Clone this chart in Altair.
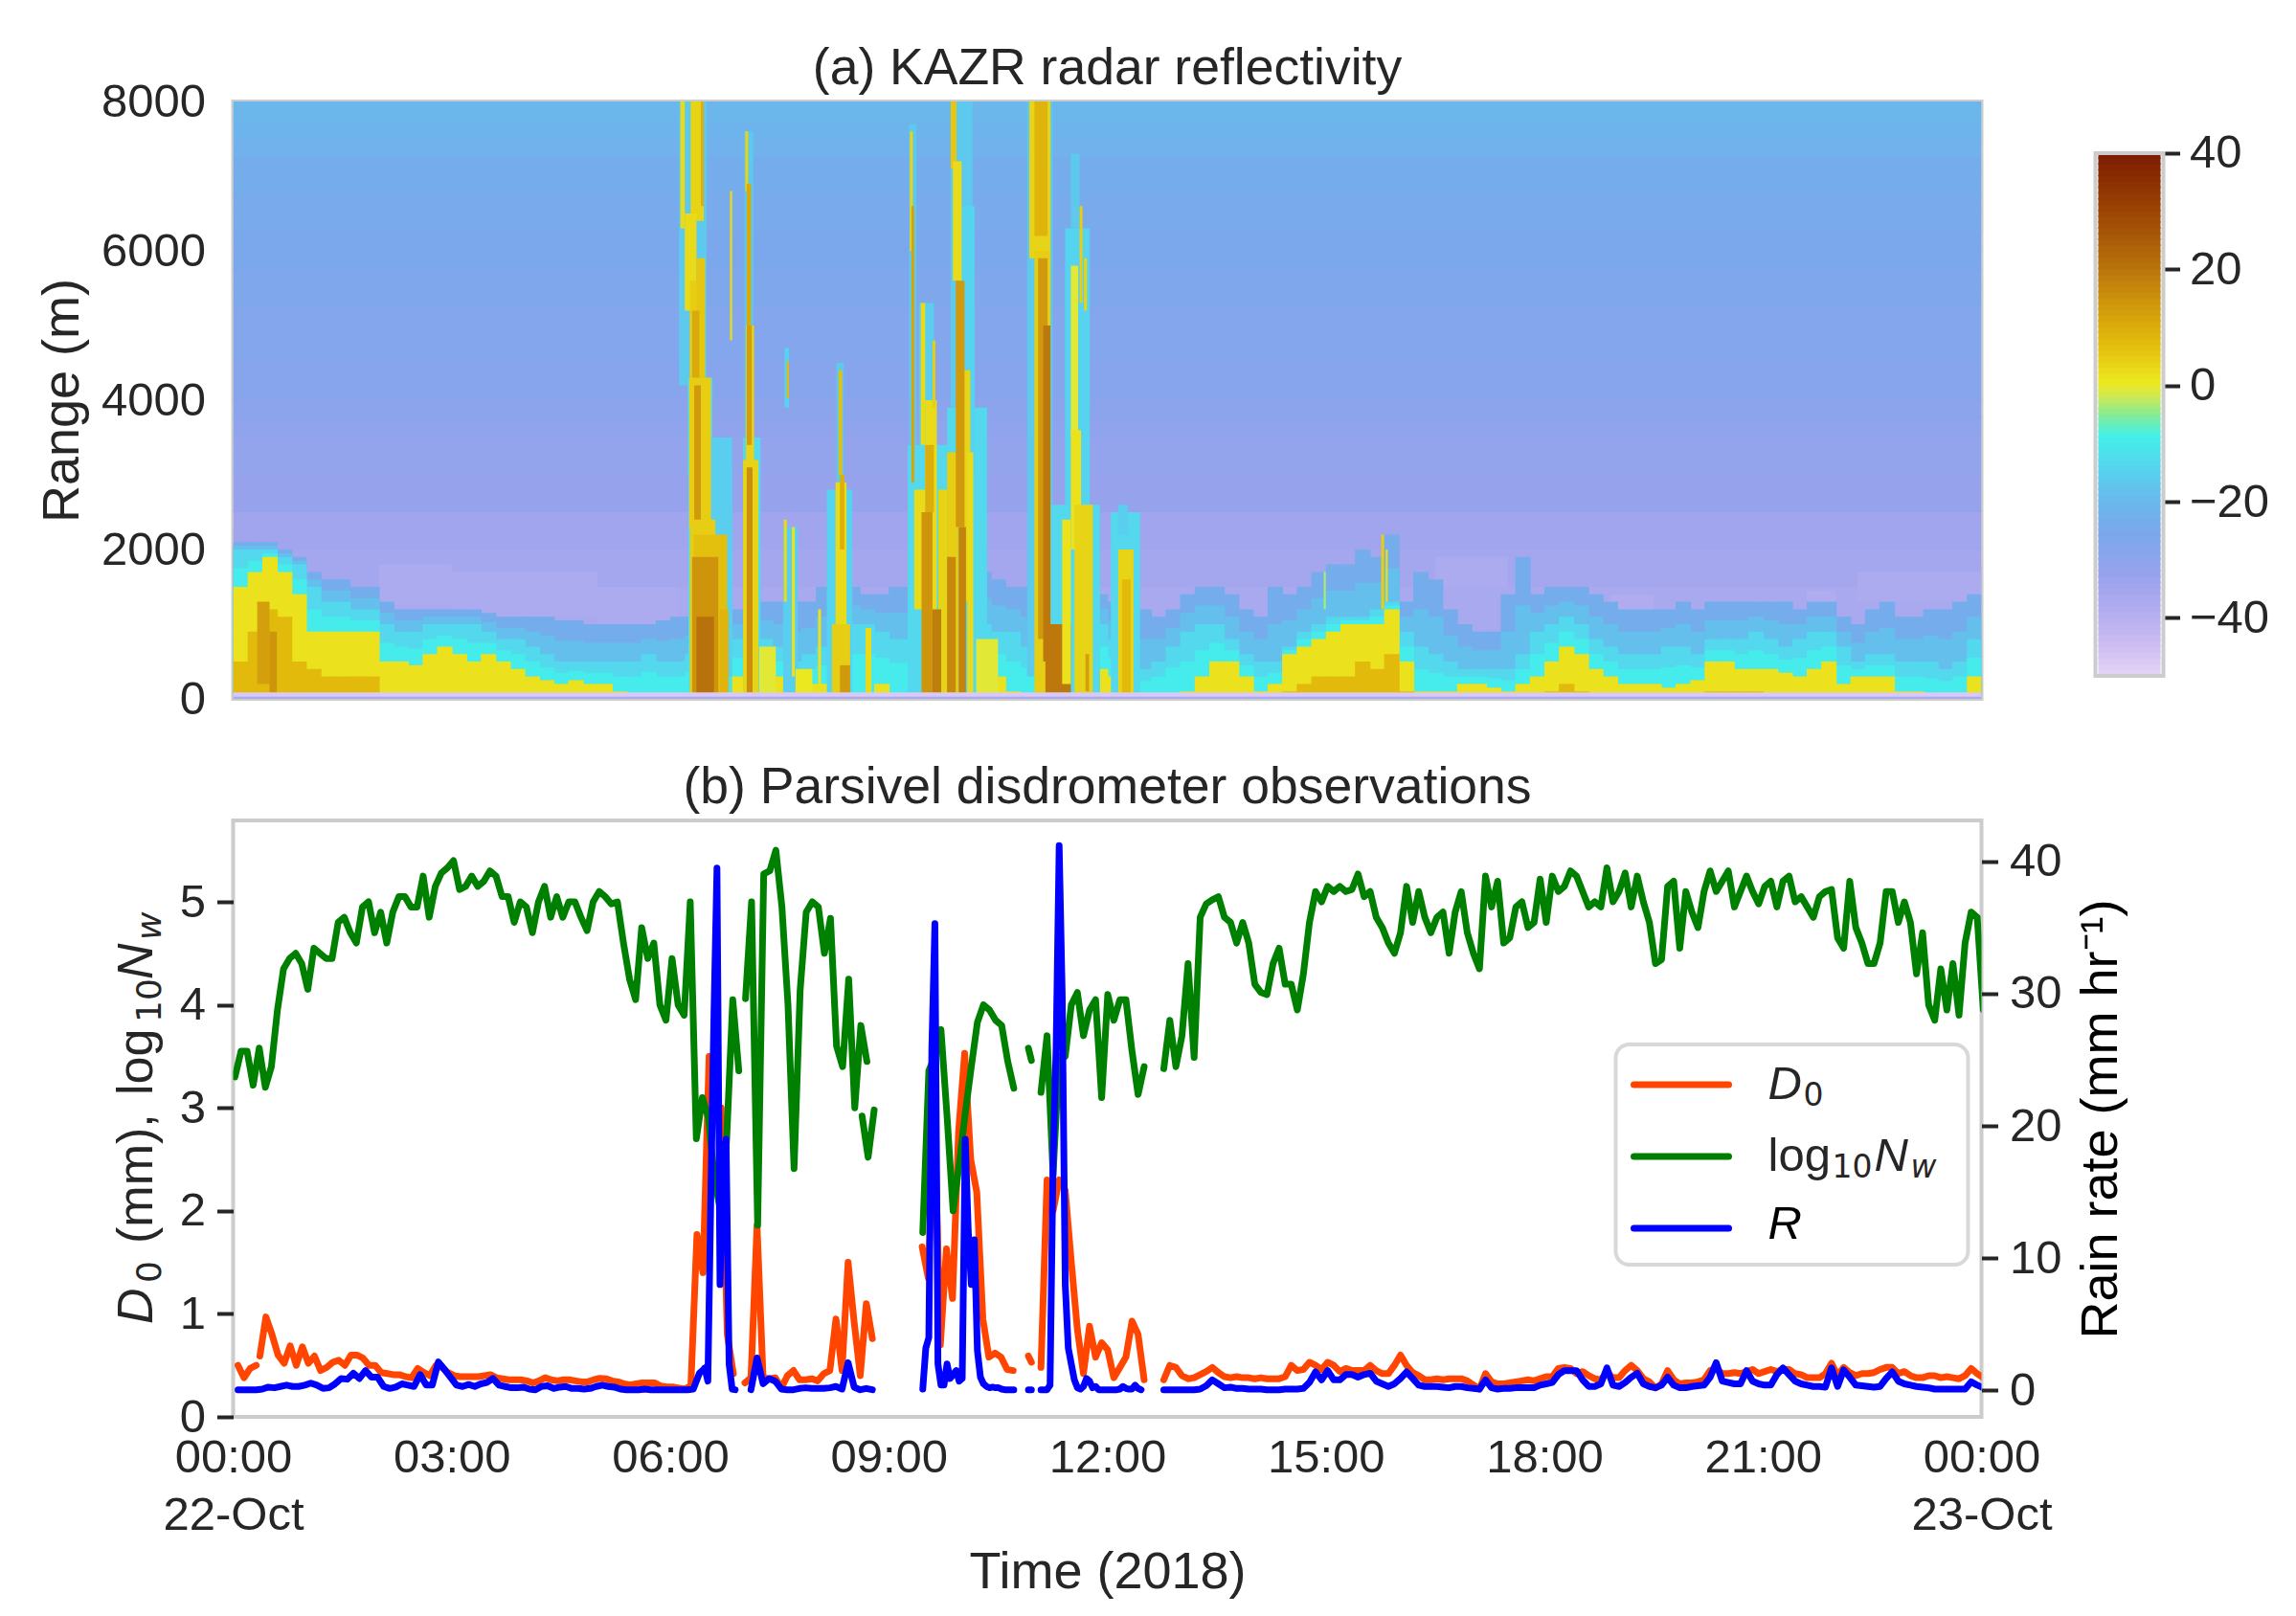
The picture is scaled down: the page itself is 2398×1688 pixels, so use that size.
import altair as alt

FONT = "Liberation Sans"
MATH = "DejaVu Sans"
INK = "#262626"
GREY = "#cccccc"
LW = 7

# ---------- panel (a): reflectivity ----------
cmap_z = [-50, -45, -40, -33, -25.7, -20, -14.7, -9.2, -5.6, -2, 0, 6.6, 12, 20, 30, 40]
cmap_c = ["#e2d2f6", "#cbbcf2", "#b5aef0", "#97a2ec", "#7aa8ec", "#68baec", "#55d5ee", "#42f0ea",
          "#85ec95", "#d5e84a", "#ece820", "#e3bc0c", "#d49f0c", "#b8720c", "#9a4203", "#7a1a00"]

# clear-air background, one value per 250 m, from the ground up
bg_z = [-37, -37, -37, -37, -37, -37, -36, -36, -35, -35, -33, -33, -32, -32, -31, -30,
        -29, -29, -28, -28, -28, -27, -27, -26, -26, -25, -25, -24, -24, -23, -22, -21]

# low-level echo tops (m), one value per 0.2 h
top_blue = [2100,2100,2100,2000,1900,1700,1600,1600,1500,1500, 1300,1200,1200,1200,1200,1200,1200,1150,1100,1100,
            1100,1100,1050,1050,1000,1000,1000,1000,1000,1050, 1100,1100,1200,1200,1200,1200,1300,1300,1300,1300,
            1500,1500,1500,1400,1400,1500,1500,1600,1600,1700, 1700,1700,1600,1500,1500,1500,1500,1400,1400,1400,
            1300,1200,1200,1100,1200,1400,1500,1500,1400,1200, 1100,1500,1400,1500,1700,1800,1800,2000,1900,2200,
            1300,1700,1600,1200,1000,900,900,1400,1900,1400, 1500,1500,1500,1400,1300,1200,1200,1200,1200,1300,
            1200,1300,1300,1300,1300,1300,1300,1200,1300,1300, 1100,1000,1200,1300,1100,1100,1200,1200,1300,1400]
top_cyan = [2000,2000,2000,1900,1800,1500,1300,1300,1200,1200, 1000,900,900,1000,1000,1000,1000,900,800,800,
            700,600,500,500,500,500,500,500,600,500, 500,600,800,800,800,800,800,700,500,600,
            700,900,1000,1000,900,800,800,1000,1000,1000, 1000,1000,900,900,700,700,900,1000,1000,1000,
            800,800,400,500,700,900,1000,1000,800,600, 500,500,700,900,1000,1100,1100,1100,1200,1300,
            900,700,600,500,400,400,400,400,600,900, 1000,1100,1000,800,700,600,600,600,700,700,
            600,800,800,800,900,800,700,800,900,900, 700,500,600,600,500,500,500,400,500,800]
top_yellow = [1500,1700,1900,1700,1400,900,900,900,900,900, 500,500,450,600,700,600,500,600,500,400,
              300,250,200,250,200,200,100,0,0,0, 0,0,300,300,300,300,200,300,100,200,
              200,200,0,0,200,0,0,0,200,300, 400,400,300,100,0,0,200,400,400,400,
              300,300,0,0,0,100,300,500,500,300, 100,200,600,700,800,900,1000,1000,1000,1200,
              500,100,100,100,200,200,150,100,200,300, 500,700,600,400,300,200,200,200,150,200,
              250,500,500,400,400,400,350,300,400,500, 200,300,300,300,100,100,50,0,0,300]
top_gold = [500,900,1200,1100,500,400,300,300,300,300, 0,0,0,0,0,0,0,0,0,0,
            0,0,0,0,0,0,0,0,0,0, 0,0,0,0,0,0,0,0,0,0,
            0,0,0,0,0,0,0,0,0,0, 0,0,0,0,0,0,0,0,0,0,
            0,0,0,0,0,0,0,0,0,0, 0,0,100,200,300,300,300,500,400,600,
            100,0,0,0,0,0,0,0,0,0, 100,200,100,0,0,0,0,0,0,0,
            0,100,100,100,100,50,0,0,0,0, 0,0,0,0,0,0,0,0,0,0]
top_z = [-24, -14, 1, 7]
mid_z = [-19, -10]   # contours read as lying about midway between blue/cyan and cyan/yellow

# faint, very low reflectivity patches: t0 (h), t1 (h), h0 (m), h1 (m), dBZ
patches = [(2.0,3.0,1250,1800,-38),(3.0,5.0,1100,1700,-38),(5.0,6.1,950,1500,-38),(16.5,17.5,1500,1900,-38),
           (18.9,19.5,1150,1400,-39),(20.8,21.3,1150,1300,-38),(21.6,22.0,1000,1450,-39),(22.3,24.0,1300,1700,-38)]

# convective fringes, drawn below the cores
fringes = [(6.12,6.50,4200,8000,-17),(6.24,6.58,3000,4300,-14),(6.25,6.85,80,3100,-12),(6.55,6.85,300,3500,-16),
           (7.0,7.24,80,3500,-14),(7.02,7.14,3500,7600,-17),(7.57,7.63,3900,4700,-15),(7.55,7.75,80,2300,-16),
           (8.15,8.5,80,2800,-15),(8.28,8.38,2800,4500,-17),(9.26,9.8,80,3400,-14),(9.28,9.38,3400,7700,-17),
           (9.42,9.62,3400,5300,-16),(9.8,10.35,80,3900,-14),(9.85,10.15,3900,8000,-17),(9.98,10.18,3000,6600,-15),
           (10.9,11.25,300,8000,-17),(11.2,11.9,80,2600,-14),(11.42,11.76,2600,6300,-15),(11.5,11.62,6300,7300,-17),
           (12.05,12.45,80,2500,-14),(12.15,12.28,2200,2600,-16)]

core_early = [(0.33,0.5,200,1300,12),(0.5,0.6,80,900,14)]
core_a = [(6.14,6.2,6300,8000,2),(6.28,6.46,6400,8000,3),(6.42,6.46,6600,8000,9),(6.2,6.36,5200,6500,2),(6.27,6.42,4200,5600,4),
          (6.36,6.48,3200,5900,5),(6.3,6.4,3200,5200,10),(6.26,6.56,2300,4300,4),(6.33,6.42,2200,4200,13),(6.27,6.62,80,2400,4),
          (6.32,6.78,80,2200,6),(6.30,6.66,80,1900,14),(6.36,6.6,80,1100,20),(6.68,6.8,80,1200,8)]
core_b = [(6.82,6.85,4800,6800,2),(7.03,7.07,6800,7600,3),(7.05,7.11,4900,6900,10),(7.04,7.15,3100,5000,3),(7.05,7.12,3400,5000,12),
          (7.0,7.21,80,3200,3),(7.05,7.13,80,3100,15),(7.22,7.45,80,700,-1),(7.6,7.63,4030,4520,7),(7.56,7.6,1300,2400,2),
          (7.67,7.71,300,2300,1),(7.72,7.95,80,400,0)]
core_c = [(8.31,8.36,3000,4400,6),(8.27,8.42,1000,2900,2),(8.33,8.39,2000,3000,9),(8.22,8.47,80,1000,4),(8.33,8.47,80,450,13),
          (8.68,8.76,80,950,2),(8.03,8.07,100,1200,1)]
core_d = [(9.29,9.33,6000,7600,3),(9.31,9.35,2900,6600,11),(9.44,9.5,3400,5300,2),(9.35,9.5,1200,2800,2),(9.5,9.66,800,4000,2),
          (9.6,9.64,3900,4800,4),(9.68,9.8,80,2800,3),(9.45,9.6,80,2500,14),(9.6,9.72,80,1200,18),(9.5,9.62,2500,3400,9)]
core_e = [(9.85,9.93,7100,8000,5),(9.88,10.0,5600,7200,2),(9.8,9.95,80,3300,4),(9.95,10.0,80,5000,5),(10.0,10.12,1300,4400,3),
          (10.08,10.16,80,3300,2),(9.8,9.92,80,1900,16),(9.96,10.06,80,2300,17),(9.92,10.04,2300,5600,13),(10.2,10.5,80,800,-1)]
core_f = [(10.93,11.22,5900,8000,3),(11.0,11.18,6200,8000,8),(11.0,11.22,80,6000,4),(11.05,11.18,800,5900,13),(11.15,11.5,80,1000,19),
          (11.12,11.22,500,5000,19),(11.5,11.6,3500,5800,-1),(11.62,11.66,5300,6600,4),(11.68,11.72,5200,5900,3),(11.5,11.64,2000,3600,1),
          (11.38,11.5,200,2400,1),(11.55,11.8,80,2600,3),(11.7,11.75,100,600,12),(12.15,12.36,80,2000,3),(12.2,12.32,80,1600,7)]
core_late = [(15.76,15.8,1200,2200,4),(15.82,15.85,1300,2000,2),(14.97,15.0,1200,1700,-4)]

# ---------- panel (b): segments are (start, step, values), both in 5-minute units ----------
nw_segs = [
 (0.3, 1, [3.30,3.55,3.55,3.22,3.58,3.2,3.4,3.95,4.35,4.45,4.5,4.4,4.15,4.55,4.5,4.45,4.45,4.8,4.85,4.7,4.6,4.95,5.0,4.7,4.9,4.6,4.9,
           5.05,5.05,4.95,4.95,5.25,4.85,5.15,5.28,5.33,5.4,5.12,5.15,5.25,5.15,5.2,5.3,5.25,5.05,5.05,4.8,5.0,4.95,4.7,5.0,5.15,4.85,
           5.05,4.85,5.0,5.0,4.85,4.72,5.0,5.1,5.05,4.98,5.0,4.6,4.25,4.05,4.75,4.45,4.6,4.0,3.85,4.45,4.0,3.9,5.0,2.7,3.1,2.9,2.3,2.0,2.7,4.05,3.36]),
 (84.4, 1, [4.06,5.0,1.86,5.27,5.3,5.5,4.95,4.0,2.41,4.14,4.9,5.0,4.95,4.5,4.84,3.6,3.4,4.25,3.0,3.8,3.45]),
 (103.6, 1, [2.92,2.52,2.98]),
 (113.6, 1, [1.79,3.36,3.5,3.76,2.92,2.0,2.45,2.95,3.4,3.83,4.0,3.95,3.85,3.8,3.45,3.19]),
 (131.0, 0.5, [3.58,3.46]),
 (133.07, 1, [3.15,3.7,2.35,3.5,3.5,4.0,4.12,3.7,3.95,4.05,3.1,4.1,3.85,4.05,4.05,3.55,3.13,3.4]),
 (153.3, 1, [3.38,3.85,3.4,3.7,4.4,3.49,4.85,4.98,5.02,5.05,4.85,4.8,4.6,4.8,4.6,4.2,4.12,4.1,4.4,4.55,4.2,4.2,3.95,4.3,4.8,5.1,5.0,5.15,5.1,
             5.15,5.1,5.12,5.27,5.05,5.1,4.85,4.75,4.6,4.5,4.7,5.15,4.8,5.1,4.85,4.7,4.85,4.9,4.5,4.9,5.1,4.7,4.5,4.35,5.25,4.95,5.2,4.6,4.65,
             4.95,5.0,4.75,4.8,5.22,4.8,5.25,5.1,5.15,5.3,5.25,5.1,4.95,5.0,4.95,5.33,5.0,5.1,5.28,4.95,5.25,5.0,4.8,4.4,4.44,5.15,5.2,4.55,5.1,
             4.9,4.75,5.1,5.3,5.1,5.2,5.3,4.95,5.1,5.25,5.1,4.98,5.15,5.2,4.95,5.2,5.25,5.0,5.05,4.95,4.85,5.05,5.1,5.12,4.65,4.55,5.2,4.75,4.6,
             4.4,4.4,4.6,5.1,5.1,4.8,5.0,4.8,4.3,4.7,4.0,3.85,4.35,3.95,4.4,3.9,4.6,4.9,4.85,3.95]),
]
d0_segs = [
 (0.8, 1, [0.5,0.38,0.47,0.5]),
 (4.4, 1, [.59,.97,.8,.6,.52,.69,.5,.68,.52,.59,.45,.48,.53,.55,.5,.6,.6,.57,.5,.5,.43,.42,.41,.41,.39,.38,.47,.43,.4,.5,.48,.43,.4,.39,.39,.39,.39,.4,
           .41,.38,.37,.36,.36,.36,.35,.33,.35,.38,.36,.35,.36,.36,.35,.34,.34,.36,.375,.37,.35,.34,.32,.31,.32,.33,.33,.33,.3,.29,.29,.28,.27,.3,1.77,1.4,3.5,3.0,3.0,.8,.42]),
 (84.3, 1, [.33,.38,1.86,.38,.37,.38,.28,.4,.45,.36,.36,.37,.35,.42,.45,.95,.45,1.5,.92,.4,1.1,.76]),
 (113.5, 1, [1.65,1.35,3.0,.7,1.63,1.15,2.77,3.53,2.5,2.18,.95,.58,.62,.58,.46,.45]),
 (131.0, 0.5, [.59,.53]),
 (133.07, 1, [.48,2.3,2.0,2.3,2.2,1.5,.85,.42,.88,.58,.72,.65,.38,.48,.58,.93,.8,.36]),
 (153.3, 1, [.36,.5,.48,.4,.37,.38,.41,.44,.48,.43,.39,.38,.39,.38,.38,.37,.38,.37,.37,.37,.39,.5,.45,.46,.53,.5,.46,.53,.5,
             .44,.47,.45,.45,.45,.5,.45,.42,.42,.5,.6,.5,.43,.4,.36,.36,.37,.36,.37,.37,.37,.35,.31,.27,.42,.34,.32,.32,.33,
             .34,.35,.36,.35,.37,.39,.39,.47,.48,.47,.42,.44,.4,.37,.36,.43,.38,.38,.45,.5,.45,.37,.34,.28,.32,.45,
             .36,.32,.33,.33,.34,.36,.45,.47,.42,.42,.43,.42,.44,.46,.42,.44,.46,.44,.46,.46,.42,.41,.38,.38,.38,.42,
             .52,.4,.48,.43,.4,.42,.42,.43,.46,.48,.48,.42,.44,.4,.38,.38,.4,.4,.38,.39,.38,.37,.4,.47,.42,.38]),
]
r_segs = [
 (0.8, 1, [.05,.05,.05,.05,.1,.25,.2,.3,.4,.3,.3,.4,.55,.4,.15,.2,.5,.9,.85,1.3,.9,1.5,1.0,1.0,.3,.15,.25,.5,.4,.3,1.2,.4,.4,2.15,1.6,1.0,.4,.3,.45,.3,.5,.6,.9,
           .4,.3,.2,.2,.25,.1,.05,.3,.35,.15,.25,.3,.15,.15,.1,.15,.3,.4,.3,.25,.1,.05,.05,.05,.1,.05,.05,.05,.05,.05,.05,.05,.1,1.3,1.7]),
 (77.7, 0.5, [1.7,.7,15,28.4,39.5,8,17,19,2,.1,.05]),
 (85.3, 1, [.05,2.45,.5,.9,.7,.1,.05,.05,.15,.2,.15,.15,.15,.2,.3,.1,2.1,.25,.05,.15,.05]),
 (113.6, 0.5, [.1,3.2,4,26,35.3,2,.4,.4,2.0,.9,1.2,1.5,.7,.9,19,12,8,11.4,3,1.0,.5,.3,.2,.25,.2,.2,.1,.05,.05,.05,.05]),
 (131.0, 0.5, [.05,.05]),
 (133.07, 0.5, [.05,.05,.05,.4,17.5,26,41.2,30,8,3.2,2,.8,.2,.1,.3,.9,.7,.2,.3,.05,.05,.05,.05,.05,.05,.05,.1,.3,.15,.1,.1,.4,.15,.05]),
 (153.3, 1, [.05,.05,.05,.05,.05,.05,.1,.35,.8,.5,.2,.25,.15,.15,.1,.1,.1,.05,.05,.05,.1,.1,.1,.15,.6,1.4,.8,1.5,.8,
             .8,1.2,1.2,1.0,1.2,1.3,.7,.5,.3,.5,.9,1.4,.9,.4,.3,.3,.3,.25,.2,.3,.3,.2,.15,.1,.8,.2,.1,.15,.15,
             .2,.2,.2,.2,.4,.5,.6,1.2,1.5,1.5,1.5,.8,.3,.3,.5,1.7,.4,.3,.6,1.0,1.3,.5,.3,.2,.4,1.0,
             .4,.2,.2,.3,.35,.4,1.0,2.1,.7,.6,.5,.5,1.5,.7,.5,.4,.4,1.2,1.7,1.2,.7,.5,.4,.3,.3,.25,
             1.7,.3,1.55,1.0,.4,.35,.3,.25,.3,.9,1.4,.7,.5,.4,.3,.25,.2,.1,.1,.1,.1,.1,.1,.65,.4,.2]),
]

left_ticks = [0, 1, 2, 3, 4, 5]
rain_ticks = [0, 10, 20, 30, 40]
range_ticks = [0, 2000, 4000, 6000, 8000]
bar_ticks = [-40, -20, 0, 20, 40]
hour_ticks = [0, 3, 6, 9, 12, 15, 18, 21, 24]
hour_labels = ["00:00", "03:00", "06:00", "09:00", "12:00", "15:00", "18:00", "21:00", "00:00"]
date_labels = ["22-Oct", "23-Oct"]

W, H_A, H_B, BAR_W = 1826, 624, 623, 71

# ---------- build rect table ----------
rects = []
for i, z in enumerate(bg_z):
    rects.append(dict(t0=0, t1=24, h0=i*250, h1=(i+1)*250+25 if i < 31 else 8000, z=z))
for p in patches:
    rects.append(dict(zip(["t0", "t1", "h0", "h1", "z"], p)))
levels = [(top_blue, top_z[0]),
          ([(a+b)/2 for a, b in zip(top_blue, top_cyan)], mid_z[0]),
          (top_cyan, top_z[1]),
          ([(a+b)/2 if b > 0 else a*0.6 for a, b in zip(top_cyan, top_yellow)], mid_z[1]),
          (top_yellow, top_z[2]),
          (top_gold, top_z[3])]
for tops, z in levels:
    for i, h in enumerate(tops):
        if h > 0:
            rects.append(dict(t0=i*0.2, t1=min(24, (i+1)*0.2+0.012), h0=60, h1=h, z=z))
for group in [fringes, core_early, core_a, core_b, core_c, core_d, core_e, core_f, core_late]:
    for p in group:
        rects.append(dict(zip(["t0", "t1", "h0", "h1", "z"], p)))
rects.append(dict(t0=0, t1=24, h0=30, h1=85, z=-48))

zscale = alt.Scale(domain=cmap_z, range=cmap_c, interpolate="rgb")
xscale = alt.Scale(domain=[0, 24], nice=False, zero=False)

top = alt.Chart(alt.Data(values=rects), title=alt.TitleParams("(a) KAZR radar reflectivity", offset=-17)).mark_rect(stroke=None, clip=True).encode(
    x=alt.X("t0:Q", scale=xscale, axis=None),
    x2="t1:Q",
    y=alt.Y("h0:Q", scale=alt.Scale(domain=[0, 8000], nice=False),
            axis=alt.Axis(values=range_ticks, format="d", title="Range (m)", grid=False, domain=False, ticks=True,
                          tickColor="transparent", tickSize=17, labelPadding=12, titlePadding=13)),
    y2="h1:Q",
    color=alt.Color("z:Q", scale=zscale, legend=None),
).properties(width=W, height=H_A)

# ---------- colour bar ----------
bar_vals = [dict(a=z, b=z+1.3 if z < 39 else 40) for z in range(-50, 40)]
bar_y = alt.Y("a:Q", scale=alt.Scale(domain=[-53.95, 48.9], nice=False, zero=False),
              axis=alt.Axis(orient="right", values=bar_ticks, grid=False, domain=False, title=None, tickSize=17,
                            tickWidth=4, tickColor=INK, labelPadding=10,
                            labelExpr="replace(datum.label, '-', '\u2212')"))
bar = alt.Chart(alt.Data(values=bar_vals)).mark_rect(stroke=None).encode(
    y=bar_y, y2="b:Q", color=alt.Color("a:Q", scale=zscale, legend=None),
    x=alt.value(3), x2=alt.value(BAR_W-3))
frame = alt.Chart(alt.Data(values=[dict(a=-50, b=40)])).mark_rect(fillOpacity=0, stroke=GREY, strokeWidth=4).encode(
    y=bar_y, y2="b:Q", x=alt.value(0), x2=alt.value(BAR_W))
cbar = alt.layer(bar, frame).properties(width=BAR_W, height=H_A, view=alt.ViewConfig(stroke=None))

# ---------- panel (b) ----------
def rows(segs):
    out = []
    for n, (start, step, vals) in enumerate(segs):
        for k, v in enumerate(vals):
            out.append(dict(t=(start + k*step)*5/60, v=v, s=n))
    return out

x_axis = alt.Axis(values=hour_ticks, title="Time (2018)", grid=False, domain=False, ticks=False, labelPadding=18, titlePadding=8,
                  labelFlush=False, labelOverlap=False, labelLineHeight=60,
                  labelExpr="datum.value == 0 ? ['%s', '%s'] : datum.value == 24 ? ['%s', '%s'] : ['%s','%s','%s','%s','%s','%s','%s','%s','%s'][datum.value / 3]" % (
                      hour_labels[0], date_labels[0], hour_labels[8], date_labels[1], *hour_labels))
left_scale = alt.Scale(domain=[0, 5.79], nice=False)
right_scale = alt.Scale(domain=[-2, 43.1], nice=False, zero=False)

def line(segs, color, scale, axis):
    return alt.Chart(alt.Data(values=rows(segs))).mark_line(color=color, strokeWidth=LW, strokeCap="round", strokeJoin="round", clip=True).encode(
        x=alt.X("t:Q", scale=xscale, axis=x_axis),
        y=alt.Y("v:Q", scale=scale, axis=axis),
        detail="s:N")

left_axis = alt.Axis(values=left_ticks, title=None, grid=False, domain=False, tickSize=17, tickWidth=4, tickColor=INK, labelPadding=12)
right_axis = alt.Axis(orient="right", values=rain_ticks, title="Rain rate (mm hr\u207b\u00b9)", titleColor="black", titleAngle=270, grid=False, domain=False,
                      tickSize=17, tickWidth=4, tickColor=INK, labelPadding=12, titlePadding=68)

one = alt.Data(values=[{"k": 1}])
def txt(s, x, y, size=49, italic=False, angle=0, color=INK, font=FONT):
    return alt.Chart(one).mark_text(text=s, font=font, fontSize=size, fontStyle="italic" if italic else "normal", angle=angle,
                                    align="left", baseline="alphabetic", color=color).encode(x=alt.value(x), y=alt.value(y))
def handle(y, color):
    return alt.Chart(one).mark_rule(color=color, strokeWidth=7, strokeCap="round").encode(x=alt.value(1463), x2=alt.value(1562), y=alt.value(y))

box = alt.Chart(one).mark_rect(fill="white", fillOpacity=0.8, stroke="#d8d8d8", strokeWidth=4, cornerRadius=14).encode(
    x=alt.value(1444), x2=alt.value(1812), y=alt.value(234), y2=alt.value(464))

legend_parts = [box, handle(276, "#ff4500"), handle(351, "#008000"), handle(426, "#0000ff"),
                txt("D", 1603, 291, italic=True), txt("0", 1640, 298, size=33, font=MATH),
                txt("log", 1603, 366), txt("10", 1670, 373, size=33, font=MATH), txt("N", 1714, 366, italic=True),
                txt("w", 1752, 373, size=33, italic=True, font=MATH),
                txt("R", 1603, 437, italic=True, color="black")]
ytitle_parts = [txt("D", -85, 526, size=52, italic=True, angle=270), txt("0", -76, 483, size=36, angle=270, font=MATH),
                txt("(mm),", -85, 442, size=52, angle=270), txt("log", -85, 287, size=52, angle=270),
                txt("10", -76, 211, size=36, angle=270, font=MATH), txt("N", -85, 166, size=52, italic=True, angle=270),
                txt("w", -76, 125, size=36, italic=True, angle=270, font=MATH)]

bottom = alt.layer(
    line(d0_segs, "#ff4500", left_scale, left_axis),
    line(nw_segs, "#008000", left_scale, None),
    line(r_segs, "#0000ff", right_scale, right_axis),
    *legend_parts, *ytitle_parts,
).resolve_scale(y="independent").properties(
    width=W, height=H_B, title=alt.TitleParams("(b) Parsivel disdrometer observations", offset=7))

chart = alt.ConcatChart(concat=[top, cbar, bottom], columns=2).properties(
    bounds="flush", spacing={"row": 127, "column": 119}, align="each",
    padding={"left": 27.5, "top": 34, "right": 5, "bottom": 5},
    background="white",
).configure_view(stroke=GREY, strokeWidth=4).configure_axis(
    labelFont=FONT, titleFont=FONT, labelFontSize=49, titleFontSize=54, labelColor=INK, titleColor=INK, titleFontWeight="normal"
).configure_title(font=FONT, fontSize=53.5, color=INK, fontWeight="normal", anchor="middle")

chart.save("out.html", embed_options={"renderer": "svg", "actions": False})
